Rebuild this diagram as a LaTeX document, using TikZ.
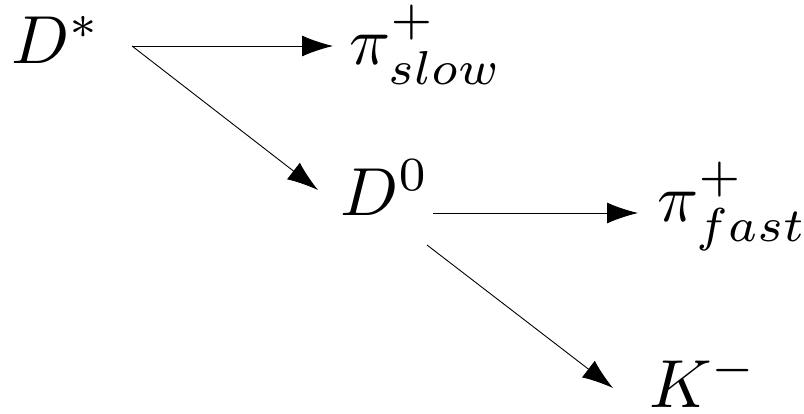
\documentclass[tikz,border=0pt]{standalone}
\usetikzlibrary{arrows.meta}
\begin{document}
\begin{tikzpicture}[x=1pt,y=-1pt,
  lbl/.style={anchor=base west,inner sep=0pt,scale=6.8},
  decay/.style={line width=0.9pt,-{Latex[length=31pt,width=21pt]}}]
\useasboundingbox[fill=white] (0,0) rectangle (804,413);
\node[lbl] (Dstar) at (10,63) {$D^*$};
\node[lbl] (pislow) at (348,64) {$\pi^+_{slow}$};
\node[lbl] (Dzero) at (339,215) {$D^0$};
\node[lbl] (pifast) at (656,221) {$\pi^+_{fast}$};
\node[lbl] (Kminus) at (648,407) {$K^-$};
\coordinate (DsOut) at (132,46);
\coordinate (pisIn) at (333,46);
\coordinate (DzIn) at (318,190);
\coordinate (DzOutA) at (433,213);
\coordinate (pifIn) at (638,213);
\coordinate (DzOutB) at (427,245);
\coordinate (KIn) at (613,388);
\draw[decay] (DsOut) -- (pisIn);
\draw[decay] (DsOut) -- (DzIn);
\draw[decay] (DzOutA) -- (pifIn);
\draw[decay] (DzOutB) -- (KIn);
\end{tikzpicture}
\end{document}
